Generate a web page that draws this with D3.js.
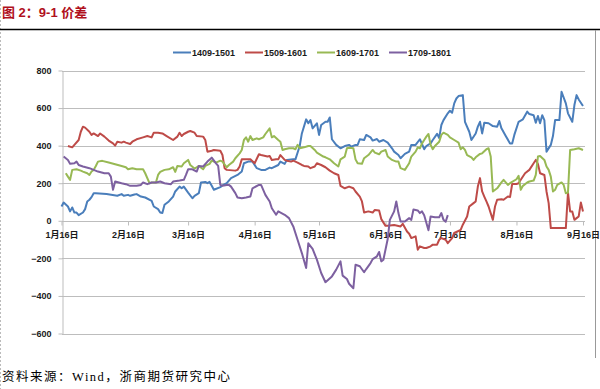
<!DOCTYPE html>
<html><head><meta charset="utf-8">
<script src="https://cdn.jsdelivr.net/npm/d3@7"></script>
<style>
html,body{margin:0;padding:0;background:#fff;}
svg{display:block;}
</style></head><body>
<svg id="chart" width="600" height="389"></svg>
<script>
const titleText = "图 2：9-1 价差";
const sourceText = "资料来源：Wind，浙商期货研究中心";
const seriesNames = ["1409-1501","1509-1601","1609-1701","1709-1801"];
const seriesColors = ["#4A7EBB","#BE4B48","#98B954","#7D60A0"];
const yTicks = [-600,-400,-200,0,200,400,600,800];
const xTickDates = ["01-16","02-16","03-16","04-16","05-16","06-16","07-16","08-16","09-16"];
const xTickLabels = ["1月16日","2月16日","3月16日","4月16日","5月16日","6月16日","7月16日","8月16日","9月16日"];

const spread1409 = [["01-16",76],["01-17",97],["01-19",76],["01-20",50],["01-21",71],["01-22",44],["01-23",44],["01-24",30],["01-26",44],["01-27",62],["01-28",103],["01-29",112],["01-30",126],["01-31",147],["02-01",147],["02-06",142],["02-11",133],["02-13",142],["02-14",133],["02-16",138],["02-17",133],["02-19",140],["02-20",142],["02-22",129],["02-24",124],["02-27",106],["02-28",76],["03-02",62],["03-03",44],["03-04",41],["03-05",85],["03-07",103],["03-09",129],["03-10",156],["03-12",182],["03-13",173],["03-14",182],["03-16",150],["03-18",120],["03-19",133],["03-21",147],["03-22",204],["03-24",207],["03-25",200],["03-26",207],["03-27",186],["03-28",165],["03-31",179],["04-01",189],["04-03",200],["04-05",227],["04-08",244],["04-10",262],["04-11",306],["04-13",315],["04-15",315],["04-17",280],["04-19",271],["04-21",271],["04-23",283],["04-24",280],["04-27",297],["04-28",315],["04-30",303],["05-01",324],["05-04",327],["05-05",327],["05-07",398],["05-08",465],["05-10",540],["05-11",519],["05-12",536],["05-13",492],["05-15",519],["05-16",457],["05-17",510],["05-19",527],["05-20",527],["05-21",550],["05-22",434],["05-24",404],["05-26",386],["05-28",398],["05-30",404],["05-31",395],["06-02",404],["06-03",404],["06-04",434],["06-06",430],["06-07",457],["06-09",444],["06-10",427],["06-12",435],["06-13",421],["06-15",430],["06-17",416],["06-19",386],["06-20",368],["06-22",350],["06-23",333],["06-25",356],["06-27",368],["06-28",404],["06-30",404],["07-02",434],["07-04",381],["07-05",398],["07-07",412],["07-08",430],["07-10",463],["07-11",441],["07-12",510],["07-13",536],["07-15",572],["07-16",586],["07-17",575],["07-18",625],["07-19",651],["07-20",664],["07-22",669],["07-23",527],["07-25",474],["07-26",430],["07-28",465],["07-29",501],["07-30",527],["07-31",465],["08-01",522],["08-03",519],["08-05",504],["08-07",501],["08-08",531],["08-09",492],["08-11",451],["08-13",412],["08-14",412],["08-15",457],["08-17",527],["08-19",540],["08-21",581],["08-22",568],["08-24",562],["08-25",522],["08-26",558],["08-27",519],["08-28",562],["08-29",536],["08-30",368],["09-01",404],["09-02",451],["09-03",536],["09-05",536],["09-06",687],["09-08",625],["09-09",572],["09-11",527],["09-12",616],["09-13",669],["09-14",646],["09-16",611]];

const spread1509 = [["01-19",398],["01-21",391],["01-22",404],["01-24",430],["01-25",474],["01-26",501],["01-27",496],["01-29",474],["01-30",457],["01-31",465],["02-02",451],["02-03",465],["02-05",448],["02-07",427],["02-09",412],["02-10",400],["02-11",421],["02-13",416],["02-14",421],["02-15",416],["02-17",409],["02-18",421],["02-20",434],["02-23",444],["02-25",451],["02-27",444],["02-28",469],["03-02",469],["03-04",465],["03-06",451],["03-09",430],["03-11",448],["03-12",469],["03-13",451],["03-14",462],["03-16",474],["03-17",478],["03-19",469],["03-20",451],["03-23",448],["03-24",430],["03-25",368],["03-27",373],["03-28",377],["03-31",373],["04-01",350],["04-02",280],["04-03",271],["04-07",267],["04-08",271],["04-09",289],["04-10",327],["04-12",327],["04-14",327],["04-16",306],["04-18",354],["04-19",350],["04-21",345],["04-22",342],["04-23",345],["04-24",324],["04-26",327],["04-27",327],["04-28",350],["04-30",324],["05-01",320],["05-03",315],["05-04",320],["05-06",310],["05-08",297],["05-09",292],["05-11",289],["05-12",280],["05-14",289],["05-15",306],["05-17",297],["05-19",285],["05-21",267],["05-23",253],["05-25",244],["05-26",186],["05-28",173],["05-30",182],["06-01",173],["06-02",156],["06-04",129],["06-05",103],["06-06",44],["06-08",50],["06-10",44],["06-11",58],["06-13",55],["06-14",9],["06-16",-27],["06-17",-27],["06-20",-23],["06-21",-25],["06-23",-30],["06-24",-16],["06-26",-57],["06-27",-69],["06-28",-92],["06-30",-83],["07-01",-154],["07-02",-136],["07-04",-145],["07-05",-145],["07-07",-136],["07-08",-127],["07-10",-127],["07-11",-101],["07-12",-92],["07-14",-101],["07-15",-119],["07-17",-92],["07-18",-65],["07-21",-48],["07-22",-21],["07-24",23],["07-25",76],["07-27",94],["07-28",103],["07-29",182],["07-30",227],["07-31",156],["08-01",129],["08-02",103],["08-03",76],["08-05",5],["08-06",76],["08-07",112],["08-09",115],["08-10",112],["08-12",129],["08-13",126],["08-14",196],["08-16",196],["08-17",200],["08-18",218],["08-20",253],["08-22",271],["08-24",306],["08-25",324],["08-26",303],["08-27",253],["08-29",244],["08-30",156],["08-31",94],["09-01",-39],["09-05",-39],["09-08",-39],["09-09",150],["09-10",50],["09-11",50],["09-12",5],["09-13",14],["09-14",23],["09-15",97],["09-16",50]];

const spread1609 = [["01-18",253],["01-19",235],["01-20",218],["01-21",271],["01-23",274],["01-25",267],["01-26",262],["01-28",253],["01-29",244],["01-30",262],["01-31",271],["02-01",292],["02-02",315],["02-04",319],["02-07",310],["02-10",301],["02-13",292],["02-15",285],["02-16",274],["02-18",280],["02-20",274],["02-23",274],["02-24",253],["02-26",200],["02-27",204],["03-01",204],["03-02",244],["03-03",260],["03-05",271],["03-07",274],["03-09",285],["03-10",260],["03-11",292],["03-13",289],["03-14",306],["03-16",324],["03-17",297],["03-19",278],["03-20",285],["03-21",292],["03-23",274],["03-24",292],["03-26",303],["03-27",320],["03-29",310],["03-31",320],["04-01",315],["04-03",285],["04-04",297],["04-06",315],["04-07",333],["04-09",359],["04-10",377],["04-11",430],["04-12",444],["04-13",421],["04-14",451],["04-15",430],["04-17",439],["04-18",434],["04-20",444],["04-21",462],["04-23",492],["04-24",444],["04-25",451],["04-27",430],["04-28",421],["04-29",377],["04-30",381],["05-02",386],["05-04",386],["05-05",381],["05-06",404],["05-07",386],["05-09",391],["05-11",398],["05-12",398],["05-14",377],["05-15",363],["05-18",342],["05-19",338],["05-21",327],["05-23",306],["05-25",289],["05-26",327],["05-28",342],["05-29",386],["05-30",389],["06-01",386],["06-02",327],["06-03",306],["06-05",303],["06-06",333],["06-08",350],["06-10",377],["06-11",363],["06-13",354],["06-14",368],["06-16",377],["06-17",342],["06-19",324],["06-21",315],["06-22",315],["06-23",280],["06-25",271],["06-27",306],["06-28",342],["06-30",368],["07-01",391],["07-02",386],["07-03",412],["07-04",430],["07-05",448],["07-06",462],["07-07",404],["07-08",381],["07-09",398],["07-11",421],["07-12",457],["07-13",469],["07-15",457],["07-16",444],["07-18",430],["07-20",416],["07-21",381],["07-22",391],["07-23",377],["07-24",350],["07-26",338],["07-27",324],["07-28",338],["07-30",356],["07-31",359],["08-02",381],["08-03",386],["08-04",342],["08-05",156],["08-07",173],["08-09",204],["08-10",218],["08-12",191],["08-13",200],["08-16",221],["08-17",239],["08-18",165],["08-19",186],["08-21",204],["08-22",209],["08-24",214],["08-25",244],["08-26",342],["08-27",345],["08-29",324],["08-30",289],["08-31",271],["09-01",235],["09-02",156],["09-03",165],["09-04",191],["09-06",204],["09-07",191],["09-08",147],["09-09",150],["09-10",377],["09-12",381],["09-14",386],["09-16",377]];

const spread1709 = [["01-17",342],["01-19",324],["01-20",303],["01-22",306],["01-23",315],["01-24",297],["01-26",289],["01-29",280],["01-31",271],["02-02",262],["02-05",253],["02-07",253],["02-08",235],["02-09",165],["02-10",209],["02-13",200],["02-15",195],["02-17",186],["02-20",186],["02-22",191],["02-23",204],["02-25",195],["02-27",204],["03-01",204],["03-03",209],["03-05",200],["03-08",195],["03-09",209],["03-12",214],["03-14",218],["03-15",244],["03-16",274],["03-18",274],["03-20",262],["03-21",292],["03-23",289],["03-25",315],["03-27",336],["03-29",306],["03-30",292],["03-31",191],["04-01",186],["04-03",191],["04-04",191],["04-05",182],["04-07",147],["04-08",124],["04-10",120],["04-12",124],["04-14",129],["04-15",173],["04-18",191],["04-19",191],["04-20",165],["04-21",138],["04-23",103],["04-24",67],["04-26",32],["04-27",50],["04-30",32],["05-02",14],["05-04",-30],["05-06",-101],["05-08",-172],["05-10",-251],["05-11",-120],["05-13",-150],["05-15",-207],["05-17",-278],["05-19",-327],["05-22",-296],["05-24",-260],["05-26",-216],["05-27",-292],["05-29",-310],["05-30",-335],["06-01",-359],["06-02",-234],["06-04",-242],["06-06",-274],["06-07",-257],["06-09",-225],["06-10",-204],["06-12",-189],["06-13",-166],["06-14",-216],["06-15",-207],["06-17",-97],["06-18",5],["06-20",50],["06-21",103],["06-22",41],["06-23",-4],["06-25",-4],["06-27",14],["06-28",5],["06-29",60],["07-01",55],["07-02",41],["07-03",50],["07-04",30],["07-06",-50],["07-07",23],["07-09",19],["07-11",19],["07-12",41],["07-13",5],["07-14",-5],["07-15",30]];

const allSeries = [spread1409, spread1509, spread1609, spread1709];

const parseDay = s => { const p = s.split("-").map(Number); return new Date(2015, p[0]-1, p[1]); };

const svg = d3.select("#chart");
const FONT = "'Liberation Sans', Arial, sans-serif";

// left dashed border
svg.append("line").attr("x1",0.5).attr("x2",0.5).attr("y1",0).attr("y2",389)
  .attr("stroke","#bbb").attr("stroke-width",1).attr("stroke-dasharray","2,2");

// title
svg.append("text").attr("x",2).attr("y",17).text(titleText)
  .attr("font-family","'Liberation Sans','Noto Sans CJK SC',sans-serif")
  .attr("font-weight","bold").attr("font-size",13).attr("fill","#B0101C");

// title rule
svg.append("line").attr("x1",0).attr("x2",600).attr("y1",29.5).attr("y2",29.5)
  .attr("stroke","#000").attr("stroke-width",1.3);

// right border
svg.append("line").attr("x1",595.5).attr("x2",595.5).attr("y1",30).attr("y2",358)
  .attr("stroke","#999").attr("stroke-width",1);

const x = d3.scaleTime().domain([parseDay("01-16"), parseDay("09-16")]).range([61.5, 583]);
const y = d3.scaleLinear().domain([-600, 800]).range([333.5, 70.5]);

// gridlines
svg.append("g").selectAll("line").data(yTicks).join("line")
  .attr("x1",62).attr("x2",585)
  .attr("y1",d=>Math.round(y(d))+0.5).attr("y2",d=>Math.round(y(d))+0.5)
  .attr("stroke","#BDBDBD").attr("stroke-width",1);

// y axis
const yAxis = svg.append("g").attr("transform","translate(62.5,0)")
  .call(d3.axisLeft(y).tickValues(yTicks).tickSize(4).tickPadding(7).tickSizeOuter(0));
yAxis.select(".domain").attr("stroke","#BDBDBD");
yAxis.selectAll(".tick line").attr("stroke","#BDBDBD");
yAxis.selectAll(".tick text").attr("font-family",FONT).attr("font-weight","bold")
  .attr("font-size",9).attr("fill","#1a1a1a");

// x axis at zero
const xAxis = svg.append("g").attr("transform",`translate(0,${Math.round(y(0))+0.5})`)
  .call(d3.axisBottom(x).tickValues(xTickDates.map(parseDay))
    .tickFormat((d,i)=>xTickLabels[i]).tickSize(4).tickPadding(6).tickSizeOuter(0));
xAxis.select(".domain").attr("stroke","#BDBDBD").attr("d","M62,0H585");
xAxis.selectAll(".tick line").attr("stroke","#BDBDBD");
xAxis.selectAll(".tick text").attr("font-family","'Liberation Sans','Noto Sans CJK SC',sans-serif")
  .attr("font-weight","bold").attr("font-size",9).attr("fill","#1a1a1a");

// lines
const line = d3.line().x(d=>x(parseDay(d[0]))).y(d=>y(d[1]));
svg.append("g").selectAll("path").data(allSeries).join("path")
  .attr("d", line).attr("fill","none")
  .attr("stroke",(d,i)=>seriesColors[i]).attr("stroke-width",2)
  .attr("stroke-linejoin","round");

// legend
const legendX = [173, 245, 317, 389];
const lg = svg.append("g").selectAll("g").data(seriesNames).join("g")
  .attr("transform",(d,i)=>`translate(${legendX[i]},52.5)`);
lg.append("line").attr("x1",0).attr("x2",18).attr("y1",0).attr("y2",0)
  .attr("stroke",(d,i)=>seriesColors[i]).attr("stroke-width",2);
lg.append("text").attr("x",19).attr("y",3.2).text(d=>d)
  .attr("font-family",FONT).attr("font-weight","bold").attr("font-size",9).attr("fill","#1a1a1a");

// source
svg.append("text").attr("x",2).attr("y",381).text(sourceText)
  .attr("font-family","'Liberation Serif','Noto Sans CJK SC',serif")
  .attr("font-size",12.5).attr("fill","#000")
  .attr("textLength",228).attr("lengthAdjust","spacing");
</script>
</body></html>
